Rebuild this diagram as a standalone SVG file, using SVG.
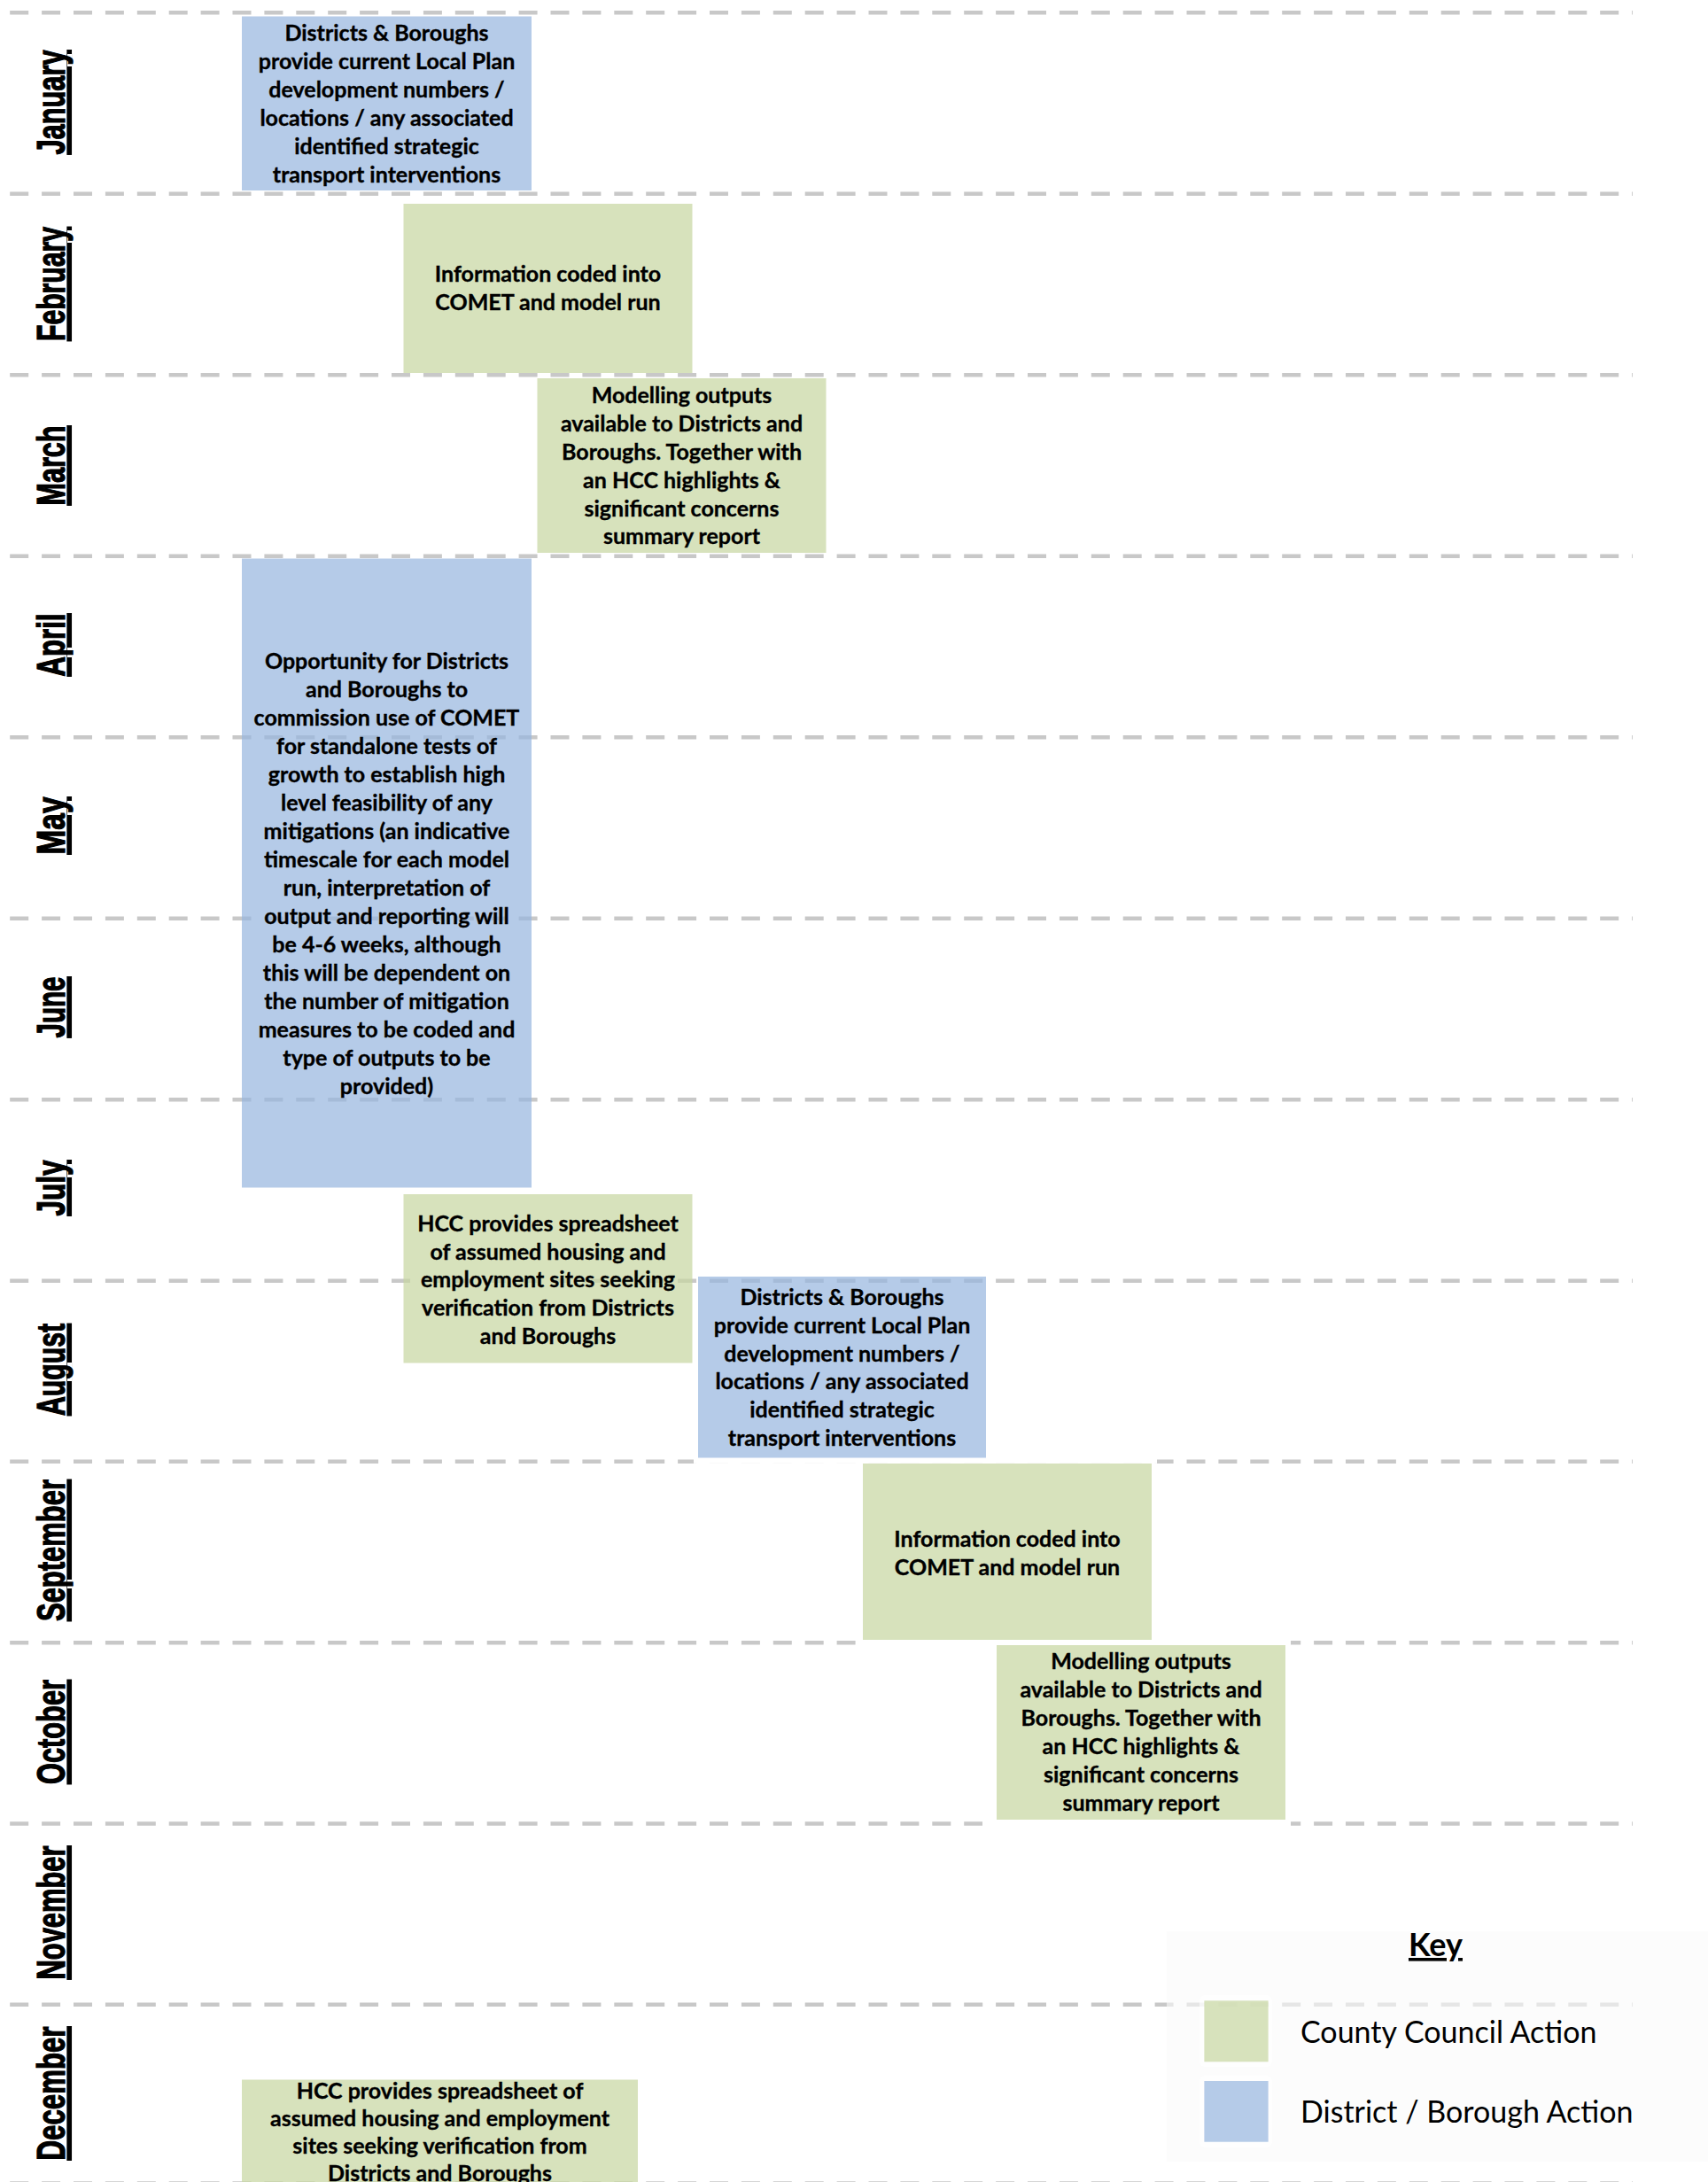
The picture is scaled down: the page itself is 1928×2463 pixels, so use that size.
<svg xmlns="http://www.w3.org/2000/svg" width="1928" height="2463" viewBox="0 0 1928 2463">
<style>
.bg{fill:#ffffff}
.grid line{stroke:#c8c8c8;stroke-width:4.4;stroke-dasharray:21 14.9;fill:none}
.gap{fill:#ffffff}
.month{font-family:"Liberation Sans Narrow","Liberation Sans",Arial,sans-serif;font-weight:bold;font-size:44px;fill:#000;stroke:#000;stroke-width:1.3;text-decoration:underline}
.cc{fill:#c6d6a0;fill-opacity:0.7}
.db{fill:#95b5de;fill-opacity:0.7}
.t{font-family:Lato,"Liberation Sans",sans-serif;font-weight:bold;font-size:25px;fill:#000;stroke:#000;stroke-width:0.35;text-anchor:middle}
.key{font-family:Lato,"Liberation Sans",sans-serif;font-weight:bold;font-size:36px;fill:#000;text-anchor:middle;text-decoration:underline}
.lg{font-family:Lato,"Liberation Sans",sans-serif;font-size:34px;fill:#000}
</style>
<rect class="bg" x="0" y="0" width="1928" height="2463"/>
<g id="gridlines" class="grid">
<line x1="11.2" y1="14.3" x2="1843" y2="14.3"/>
<line x1="11.2" y1="218.8" x2="1843" y2="218.8"/>
<line x1="11.2" y1="423.3" x2="1843" y2="423.3"/>
<line x1="11.2" y1="627.8" x2="1843" y2="627.8"/>
<line x1="11.2" y1="832.3" x2="1843" y2="832.3"/>
<line x1="11.2" y1="1036.8" x2="1843" y2="1036.8"/>
<line x1="11.2" y1="1241.3" x2="1843" y2="1241.3"/>
<line x1="11.2" y1="1445.8" x2="1843" y2="1445.8"/>
<line x1="11.2" y1="1649.8" x2="1843" y2="1649.8"/>
<line x1="11.2" y1="1854.3" x2="1843" y2="1854.3"/>
<line x1="11.2" y1="2058.5" x2="1843" y2="2058.5"/>
<line x1="11.2" y1="2262.8" x2="1843" y2="2262.8"/>
<line x1="11.2" y1="2464.5" x2="1843" y2="2464.5"/>
</g>
<g id="gaps">
<rect class="gap" x="783" y="1646.6" width="523" height="5.3"/>
<rect class="gap" x="969" y="1851" width="488" height="7"/>
<rect class="gap" x="1109" y="2055" width="348" height="7"/>
</g>
<g id="months">
<text class="month" x="73" y="115.5" transform="rotate(-90 73 115.5)" text-anchor="middle" textLength="118" lengthAdjust="spacingAndGlyphs">January</text>
<text class="month" x="73" y="320.5" transform="rotate(-90 73 320.5)" text-anchor="middle" textLength="129" lengthAdjust="spacingAndGlyphs">February</text>
<text class="month" x="73" y="525.5" transform="rotate(-90 73 525.5)" text-anchor="middle" textLength="90" lengthAdjust="spacingAndGlyphs">March</text>
<text class="month" x="73" y="728" transform="rotate(-90 73 728)" text-anchor="middle" textLength="71" lengthAdjust="spacingAndGlyphs">April</text>
<text class="month" x="73" y="932" transform="rotate(-90 73 932)" text-anchor="middle" textLength="65" lengthAdjust="spacingAndGlyphs">May</text>
<text class="month" x="73" y="1137" transform="rotate(-90 73 1137)" text-anchor="middle" textLength="69" lengthAdjust="spacingAndGlyphs">June</text>
<text class="month" x="73" y="1341" transform="rotate(-90 73 1341)" text-anchor="middle" textLength="63" lengthAdjust="spacingAndGlyphs">July</text>
<text class="month" x="73" y="1546" transform="rotate(-90 73 1546)" text-anchor="middle" textLength="104" lengthAdjust="spacingAndGlyphs">August</text>
<text class="month" x="73" y="1750" transform="rotate(-90 73 1750)" text-anchor="middle" textLength="160" lengthAdjust="spacingAndGlyphs">September</text>
<text class="month" x="73" y="1955" transform="rotate(-90 73 1955)" text-anchor="middle" textLength="118" lengthAdjust="spacingAndGlyphs">October</text>
<text class="month" x="73" y="2159" transform="rotate(-90 73 2159)" text-anchor="middle" textLength="151" lengthAdjust="spacingAndGlyphs">November</text>
<text class="month" x="73" y="2363" transform="rotate(-90 73 2363)" text-anchor="middle" textLength="151" lengthAdjust="spacingAndGlyphs">December</text>
</g>
<g id="legend">
<rect x="1317" y="2180" width="611" height="260" fill="#fafafa" fill-opacity="0.6"/>
<rect x="1354" y="2252" width="82" height="81" rx="6" fill="#ffffff" fill-opacity="0.6"/>
<rect x="1354" y="2343" width="82" height="81" rx="6" fill="#ffffff" fill-opacity="0.6"/>
<text class="key" x="1620.5" y="2208">Key</text>
<rect class="cc" x="1359.4" y="2258.3" width="72.2" height="69"/>
<rect class="db" x="1359.4" y="2349" width="72.2" height="68.7"/>
<text class="lg" x="1468" y="2306">County Council Action</text>
<text class="lg" x="1468" y="2396">District / Borough Action</text>
</g>
<g id="node-jan">
<rect class="db" x="273" y="18.5" width="327" height="196.5"/>
<text class="t"><tspan x="436.5" y="46">Districts &amp; Boroughs</tspan><tspan x="436.5" y="78">provide current Local Plan</tspan><tspan x="436.5" y="110">development numbers /</tspan><tspan x="436.5" y="142">locations / any associated</tspan><tspan x="436.5" y="174">identified strategic</tspan><tspan x="436.5" y="206">transport interventions</tspan></text>
</g>
<g id="node-feb">
<rect class="cc" x="455.5" y="230" width="326" height="191"/>
<text class="t"><tspan x="618.5" y="318">Information coded into</tspan><tspan x="618.5" y="350">COMET and model run</tspan></text>
</g>
<g id="node-mar">
<rect class="cc" x="606.5" y="427" width="326" height="197"/>
<text class="t"><tspan x="769.5" y="455">Modelling outputs</tspan><tspan x="769.5" y="487">available to Districts and</tspan><tspan x="769.5" y="519">Boroughs. Together with</tspan><tspan x="769.5" y="550.5">an HCC highlights &amp;</tspan><tspan x="769.5" y="582.5">significant concerns</tspan><tspan x="769.5" y="614">summary report</tspan></text>
</g>
<g id="node-apr-jul">
<rect class="db" x="273" y="630.5" width="327" height="710"/>
<text class="t"><tspan x="436.5" y="755">Opportunity  for Districts</tspan><tspan x="436.5" y="787">and Boroughs to</tspan><tspan x="436.5" y="819">commission use of COMET</tspan><tspan x="436.5" y="851">for standalone tests of</tspan><tspan x="436.5" y="883">growth to establish high</tspan><tspan x="436.5" y="915">level feasibility of any</tspan><tspan x="436.5" y="947">mitigations  (an indicative</tspan><tspan x="436.5" y="979">timescale for each model</tspan><tspan x="436.5" y="1011">run, interpretation of</tspan><tspan x="436.5" y="1043">output and reporting will</tspan><tspan x="436.5" y="1075">be 4-6 weeks, although</tspan><tspan x="436.5" y="1107">this will be dependent on</tspan><tspan x="436.5" y="1139">the number of mitigation</tspan><tspan x="436.5" y="1171">measures to be coded and</tspan><tspan x="436.5" y="1203">type of outputs to be</tspan><tspan x="436.5" y="1235">provided)</tspan></text>
</g>
<g id="node-jul-aug">
<rect class="cc" x="455.5" y="1348" width="326" height="190.5"/>
<text class="t"><tspan x="618.5" y="1390">HCC provides spreadsheet</tspan><tspan x="618.5" y="1421.5">of assumed housing and</tspan><tspan x="618.5" y="1453">employment sites seeking</tspan><tspan x="618.5" y="1485">verification from Districts</tspan><tspan x="618.5" y="1517">and Boroughs</tspan></text>
</g>
<g id="node-aug">
<rect class="db" x="788" y="1441" width="325" height="204.5"/>
<text class="t"><tspan x="950.5" y="1473">Districts &amp; Boroughs</tspan><tspan x="950.5" y="1505">provide current Local Plan</tspan><tspan x="950.5" y="1536.5">development numbers /</tspan><tspan x="950.5" y="1568">locations / any associated</tspan><tspan x="950.5" y="1600">identified strategic</tspan><tspan x="950.5" y="1632">transport interventions</tspan></text>
</g>
<g id="node-sep">
<rect class="cc" x="974" y="1652" width="326" height="199"/>
<text class="t"><tspan x="1137" y="1746">Information coded into</tspan><tspan x="1137" y="1777.5">COMET and model run</tspan></text>
</g>
<g id="node-oct">
<rect class="cc" x="1125" y="1857" width="326" height="197"/>
<text class="t"><tspan x="1288" y="1884">Modelling outputs</tspan><tspan x="1288" y="1916">available to Districts and</tspan><tspan x="1288" y="1947.5">Boroughs. Together with</tspan><tspan x="1288" y="1979.5">an HCC highlights &amp;</tspan><tspan x="1288" y="2012">significant concerns</tspan><tspan x="1288" y="2044">summary report</tspan></text>
</g>
<g id="node-dec">
<rect class="cc" x="273" y="2347.5" width="447" height="120"/>
<text class="t"><tspan x="496.5" y="2369">HCC provides spreadsheet of</tspan><tspan x="496.5" y="2400">assumed housing and employment</tspan><tspan x="496.5" y="2430.5">sites seeking verification from</tspan><tspan x="496.5" y="2461.5">Districts and Boroughs</tspan></text>
</g>
<g id="connectors"></g>
</svg>
